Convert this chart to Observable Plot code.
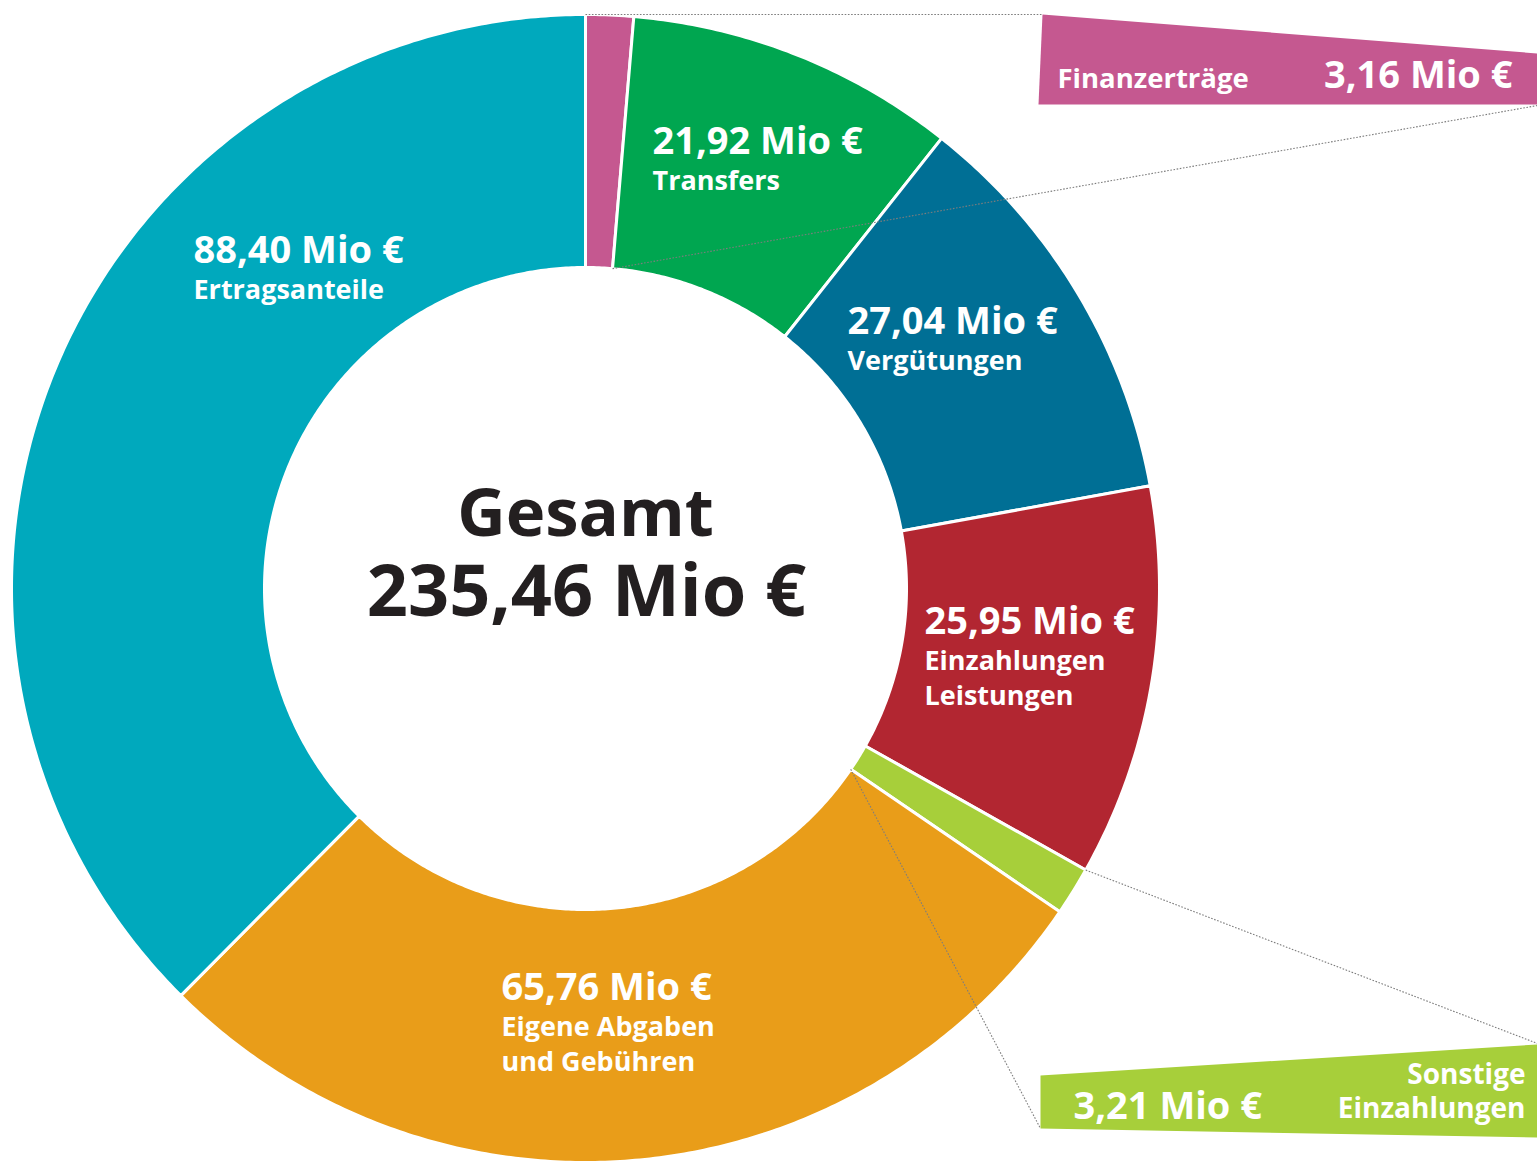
<!DOCTYPE html>
<html>
<head>
<meta charset="utf-8">
<script src="https://cdn.jsdelivr.net/npm/d3@7"></script>
<script src="https://cdn.jsdelivr.net/npm/@observablehq/plot@0.6"></script>
<style>
  html, body { margin: 0; padding: 0; background: #fff; }
  #chart svg { display: block; }
</style>
</head>
<body>
<div id="chart"></div>
<script>
// ---- data ----
const categories = ["Finanzerträge", "Transfers", "Vergütungen", "Einzahlungen Leistungen", "Sonstige Einzahlungen", "Eigene Abgaben und Gebühren", "Ertragsanteile"];
const values = [3.16, 21.92, 27.04, 25.95, 3.21, 65.76, 88.40];
const nameLines = [["Finanzerträge"], ["Transfers"], ["Vergütungen"], ["Einzahlungen", "Leistungen"], ["Sonstige", "Einzahlungen"], ["Eigene Abgaben", "und Gebühren"], ["Ertragsanteile"]];
const colors = ["#c55890", "#00a650", "#006f95", "#b22631", "#a7cf3a", "#e99d19", "#00a9bd"];
const totalTitle = "Gesamt";
const totalValue = 235.46;

// ---- layout (pixels) ----
const W = 1537, H = 1161;
const cx = 585, cy = 588, rOuter = 574, rInner = 321;
const labelAnchor = [null, [652, 153], [847, 333], [924, 633], null, [501, 999], [193, 262]];
const callouts = [
  {index: 0, box: [[1042, 14], [1537, 53], [1537, 104], [1038, 104]], outerTo: [1042, 14], innerTo: [1537, 105]},
  {index: 4, box: [[1040, 1075], [1537, 1044], [1537, 1137], [1040, 1128]], outerTo: [1537, 1043], innerTo: [1040, 1128]}
];
const nameGap = 36, lineStep = 35, nameSize = 27;

const fmt = v => v.toFixed(2).replace(".", ",") + " Mio €";
const total = d3.sum(values);

let acc = 0;
const slices = categories.map((c, i) => {
  const a0 = acc / total * 2 * Math.PI;
  acc += values[i];
  const a1 = acc / total * 2 * Math.PI;
  return {category: c, a0, a1, i};
});
const pt = (a, r) => [cx + r * Math.sin(a), cy - r * Math.cos(a)];

const sliceRows = slices.flatMap(s => {
  const n = Math.max(2, Math.ceil((s.a1 - s.a0) / (Math.PI / 360)));
  const pts = [];
  for (let k = 0; k <= n; k++) pts.push(pt(s.a0 + (s.a1 - s.a0) * k / n, rOuter));
  for (let k = n; k >= 0; k--) pts.push(pt(s.a0 + (s.a1 - s.a0) * k / n, rInner));
  pts.push(pts[0]);
  return pts.map(([x, y]) => ({category: s.category, x, y}));
});

// callout dotted lines: from slice outer start / inner end to the boxes
const linkRows = callouts.flatMap(c => {
  const s = slices[c.index];
  const o = pt(s.a0, rOuter), inn = pt(s.a1, rInner);
  return [
    {x1: o[0], y1: o[1], x2: c.outerTo[0], y2: c.outerTo[1]},
    {x1: inn[0], y1: inn[1], x2: c.innerTo[0], y2: c.innerTo[1]}
  ];
});
const boxRows = callouts.flatMap(c => c.box.concat([c.box[0]]).map(([x, y]) => ({category: categories[c.index], x, y})));

// labels inside slices
const valueRows = [], nameRows = [];
labelAnchor.forEach((p, i) => {
  if (!p) return;
  valueRows.push({x: p[0], y: p[1], text: fmt(values[i])});
  const lines = nameLines[i];
  nameRows.push({x: p[0], y: p[1] + nameGap + (lines.length - 1) * lineStep, text: lines.join("\n")});
});

const font = "'Open Sans', 'Noto Sans', sans-serif";

const chart = Plot.plot({
  width: W, height: H, margin: 0,
  x: {domain: [0, W], range: [0, W], axis: null},
  y: {domain: [0, H], range: [0, H], axis: null},
  color: {domain: categories, range: colors},
  style: {fontFamily: font, background: "#fff"},
  marks: [
    Plot.line(sliceRows, {x: "x", y: "y", z: "category", fill: "category", stroke: "white", strokeWidth: 3, curve: "linear"}),
    Plot.link(linkRows, {x1: "x1", y1: "y1", x2: "x2", y2: "y2", stroke: "#7d7d7d", strokeWidth: 1.1, strokeDasharray: "1.6,1.6"}),
    Plot.line(boxRows, {x: "x", y: "y", z: "category", fill: "category", stroke: "none", curve: "linear"}),
    // slice labels
    Plot.text(valueRows, {x: "x", y: "y", text: "text", textAnchor: "start", lineAnchor: "bottom", fill: "white", fontSize: 38, fontWeight: 700}),
    Plot.text(nameRows, {x: "x", y: "y", text: "text", textAnchor: "start", lineAnchor: "bottom", lineHeight: lineStep / nameSize, fill: "white", fontSize: nameSize, fontWeight: 700}),
    // pink callout
    Plot.text([nameLines[0][0]], {x: () => 1057, y: () => 87, text: d => d, textAnchor: "start", lineAnchor: "bottom", fill: "white", fontSize: 27.5, fontWeight: 700}),
    Plot.text([fmt(values[0])], {x: () => 1512, y: () => 87, text: d => d, textAnchor: "end", lineAnchor: "bottom", fill: "white", fontSize: 38, fontWeight: 700}),
    // green callout
    Plot.text([fmt(values[4])], {x: () => 1073, y: () => 1118, text: d => d, textAnchor: "start", lineAnchor: "bottom", fill: "white", fontSize: 38, fontWeight: 700}),
    Plot.text([nameLines[4].join("\n")], {x: () => 1525, y: () => 1117, text: d => d, textAnchor: "end", lineAnchor: "bottom", lineHeight: 34 / 28, fill: "white", fontSize: 28, fontWeight: 700}),
    // centre
    Plot.text([totalTitle], {x: () => cx, y: () => 535, text: d => d, textAnchor: "middle", lineAnchor: "bottom", fill: "#231f20", fontSize: 67, fontWeight: 700}),
    Plot.text([fmt(totalValue)], {x: () => cx + 1, y: () => 615, text: d => d, textAnchor: "middle", lineAnchor: "bottom", fill: "#231f20", fontSize: 72, fontWeight: 700})
  ]
});
document.getElementById("chart").appendChild(chart);
</script>
</body>
</html>
